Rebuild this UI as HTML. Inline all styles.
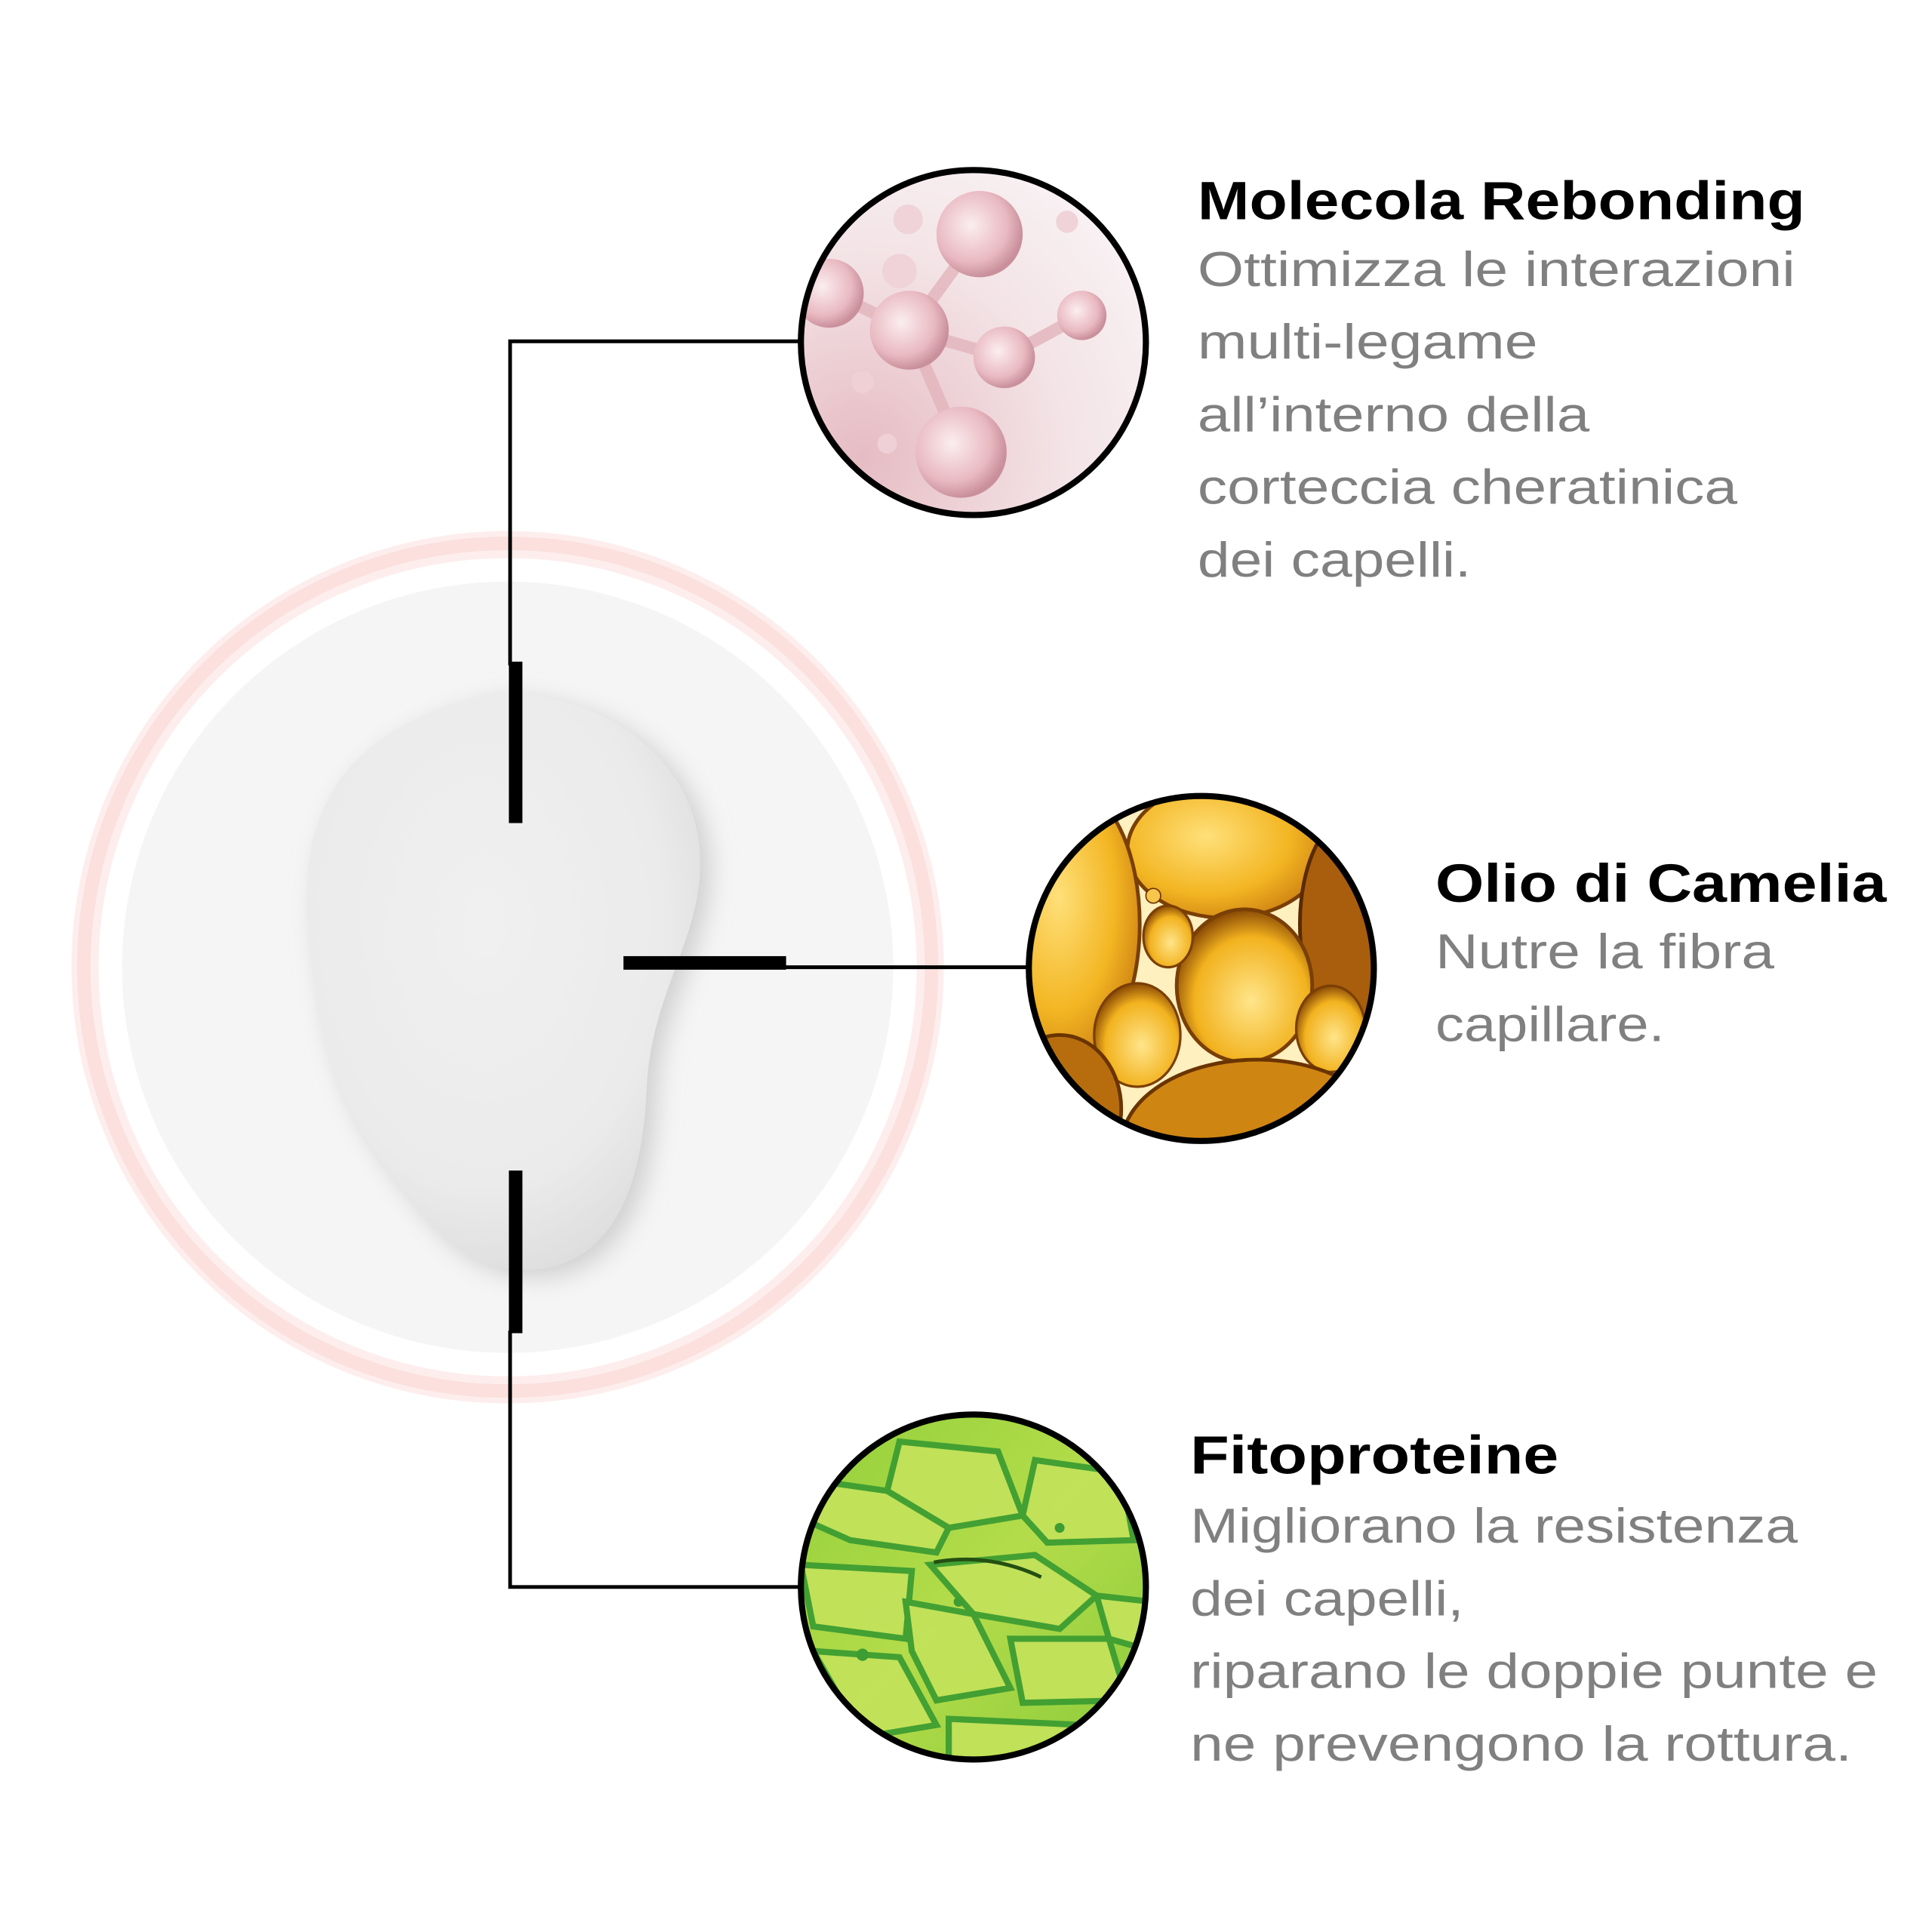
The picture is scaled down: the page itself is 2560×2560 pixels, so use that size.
<!DOCTYPE html>
<html><head><meta charset="utf-8"><style>html,body{margin:0;padding:0;background:#fff}svg{display:block}</style></head>
<body>
<svg width="2560" height="2560" viewBox="0 0 1568 1568" xmlns="http://www.w3.org/2000/svg">
<defs>
<radialGradient id="blob" cx="0.45" cy="0.4" r="0.65">
<stop offset="0" stop-color="#f0f0f0"/><stop offset="0.7" stop-color="#ebebeb"/><stop offset="1" stop-color="#dcdcdc"/>
</radialGradient>
<radialGradient id="pink" cx="0.2" cy="0.8" r="0.9">
<stop offset="0" stop-color="#e6bcc3"/><stop offset="0.6" stop-color="#f3e3e6"/><stop offset="1" stop-color="#f8f1f3"/>
</radialGradient>
<radialGradient id="sph" cx="0.4" cy="0.4" r="0.6">
<stop offset="0" stop-color="#fbeef0"/><stop offset="0.7" stop-color="#e9b9c1"/><stop offset="1" stop-color="#c9909b"/>
</radialGradient>
<radialGradient id="oil" cx="0.4" cy="0.4" r="0.7">
<stop offset="0" stop-color="#ffe07a"/><stop offset="0.6" stop-color="#f3b623"/><stop offset="1" stop-color="#c87a10"/>
</radialGradient>
<radialGradient id="drop" cx="0.55" cy="0.6" r="0.6">
<stop offset="0" stop-color="#ffe58a"/><stop offset="0.7" stop-color="#f2b21e"/><stop offset="1" stop-color="#8a4a05"/>
</radialGradient>
<linearGradient id="green" x1="0" y1="0" x2="1" y2="1">
<stop offset="0" stop-color="#8fcf3a"/><stop offset="0.5" stop-color="#b4dc4a"/><stop offset="1" stop-color="#86c93a"/>
</linearGradient>
<filter id="sh" x="-20%" y="-20%" width="140%" height="140%"><feGaussianBlur stdDeviation="10"/></filter>
<clipPath id="c1"><circle cx="790" cy="278" r="140"/></clipPath>
<clipPath id="c2"><circle cx="975" cy="786" r="140"/></clipPath>
<clipPath id="c3"><circle cx="790" cy="1288" r="140"/></clipPath>
</defs>
<rect width="1568" height="1568" fill="#fff"/>
<circle cx="412" cy="785" r="343" fill="none" stroke="#fdeeed" stroke-width="22"/>
<circle cx="412" cy="785" r="344" fill="none" stroke="#fbe0dd" stroke-width="11"/>
<circle cx="412" cy="785" r="313" fill="#f5f5f5"/>
<path d="M400 562 C470 560 560 600 568 690 C572 760 530 800 525 880 C522 960 500 1020 440 1030 C390 1035 360 1010 330 970 C290 920 265 880 255 800 C240 700 240 600 400 562 Z" fill="#cfcfcf" transform="translate(8,6)" filter="url(#sh)"/>
<path d="M400 562 C470 560 560 600 568 690 C572 760 530 800 525 880 C522 960 500 1020 440 1030 C390 1035 360 1010 330 970 C290 920 265 880 255 800 C240 700 240 600 400 562 Z" fill="url(#blob)"/>
<!-- connectors -->
<polyline points="648,277 414,277 414,540" fill="none" stroke="#000" stroke-width="3"/>
<rect x="413" y="537" width="11" height="131" fill="#000"/>
<polyline points="648,1288 414,1288 414,1080" fill="none" stroke="#000" stroke-width="3"/>
<rect x="413" y="950" width="11" height="132" fill="#000"/>
<rect x="506" y="776" width="132" height="11" fill="#000"/>
<line x1="636" y1="785" x2="835" y2="785" stroke="#000" stroke-width="3"/>
<!-- pink -->
<g clip-path="url(#c1)">
<rect x="640" y="130" width="300" height="300" fill="url(#pink)"/>
<g stroke="#e3b4bc" stroke-width="10" opacity="0.8"><line x1="738" y1="268" x2="795" y2="190"/><line x1="738" y1="268" x2="815" y2="290"/><line x1="815" y1="290" x2="878" y2="256"/><line x1="738" y1="268" x2="780" y2="365"/><line x1="738" y1="268" x2="680" y2="240"/></g>
<circle cx="795" cy="190" r="35" fill="url(#sph)"/>
<circle cx="738" cy="268" r="32" fill="url(#sph)"/>
<circle cx="815" cy="290" r="25" fill="url(#sph)"/>
<circle cx="878" cy="256" r="20" fill="url(#sph)"/>
<circle cx="780" cy="367" r="37" fill="url(#sph)"/>
<circle cx="673" cy="238" r="28" fill="url(#sph)"/>
<circle cx="737" cy="178" r="12" fill="#efd3d8"/><circle cx="730" cy="220" r="14" fill="#efd3d8"/><circle cx="866" cy="180" r="9" fill="#efd3d8"/>
<circle cx="700" cy="310" r="9" fill="#eed0d6"/><circle cx="720" cy="360" r="8" fill="#eed0d6"/>
</g>
<circle cx="790" cy="278" r="140" fill="none" stroke="#000" stroke-width="5"/>
<!-- oil -->
<g clip-path="url(#c2)">
<rect x="830" y="640" width="300" height="300" fill="#fff0c0"/>
<ellipse cx="995" cy="690" rx="80" ry="55" fill="url(#oil)" stroke="#7a3f05" stroke-width="3"/>
<ellipse cx="870" cy="750" rx="55" ry="110" fill="url(#oil)" stroke="#7a3f05" stroke-width="3"/>
<ellipse cx="1100" cy="750" rx="45" ry="90" fill="#a85e0c" stroke="#5a2a00" stroke-width="3"/>
<ellipse cx="1010" cy="800" rx="55" ry="62" fill="url(#drop)" stroke="#7a3f05" stroke-width="3"/>
<ellipse cx="948" cy="760" rx="20" ry="25" fill="url(#drop)" stroke="#7a3f05" stroke-width="2"/>
<ellipse cx="923" cy="840" rx="35" ry="42" fill="url(#drop)" stroke="#7a3f05" stroke-width="2"/>
<ellipse cx="1080" cy="835" rx="28" ry="35" fill="url(#drop)" stroke="#7a3f05" stroke-width="2"/>
<ellipse cx="1020" cy="930" rx="110" ry="70" fill="#cf8512" stroke="#6a3400" stroke-width="3"/>
<ellipse cx="860" cy="900" rx="50" ry="60" fill="#b76d0e" stroke="#6a3400" stroke-width="3"/>
<circle cx="936" cy="727" r="6" fill="#f7c64a" stroke="#6a3400"/>
</g>
<circle cx="975" cy="786" r="140" fill="none" stroke="#000" stroke-width="5"/>
<!-- green -->
<g clip-path="url(#c3)">
<rect x="640" y="1140" width="300" height="300" fill="url(#green)"/>
<g fill="#c2e25a" stroke="#3e9d32" stroke-width="5" opacity="0.95">
<path d="M730 1170 L810 1178 L830 1230 L770 1240 L720 1210 Z"/>
<path d="M830 1230 L840 1185 L910 1195 L920 1250 L850 1252 Z"/>
<path d="M650 1200 L720 1210 L770 1240 L760 1260 L690 1250 L645 1230 Z"/>
<path d="M755 1270 L840 1262 L890 1295 L860 1322 L790 1310 Z"/>
<path d="M650 1270 L740 1275 L735 1330 L660 1320 Z"/>
<path d="M735 1300 L790 1310 L820 1370 L760 1380 L740 1340 Z"/>
<path d="M820 1330 L900 1330 L915 1380 L830 1382 Z"/>
<path d="M890 1295 L935 1300 L935 1340 L900 1330 Z"/>
<path d="M660 1340 L730 1345 L760 1400 L700 1410 Z"/>
<path d="M770 1395 L880 1400 L860 1430 L770 1430 Z"/>
</g>
<path d="M758 1268 C790 1262 820 1268 845 1280" stroke="#244f12" stroke-width="3" fill="none"/>
<circle cx="860" cy="1240" r="4" fill="#3e9d32"/><circle cx="778" cy="1300" r="4" fill="#3e9d32"/><circle cx="700" cy="1343" r="5" fill="#3e9d32"/>
</g>
<circle cx="790" cy="1288" r="140" fill="none" stroke="#000" stroke-width="5"/>
<!-- text -->
<g font-family="'Liberation Sans', sans-serif">
<g font-weight="bold" font-size="44" fill="#000">
<text x="972" y="178" textLength="493" lengthAdjust="spacingAndGlyphs">Molecola Rebonding</text>
<text x="1165" y="732" textLength="366" lengthAdjust="spacingAndGlyphs">Olio di Camelia</text>
<text x="966" y="1196" textLength="299" lengthAdjust="spacingAndGlyphs">Fitoproteine</text>
</g>
<g font-size="40" fill="#808080">
<text x="972" y="232" textLength="485" lengthAdjust="spacingAndGlyphs">Ottimizza le interazioni</text>
<text x="972" y="291" textLength="276" lengthAdjust="spacingAndGlyphs">multi-legame</text>
<text x="972" y="350" textLength="318" lengthAdjust="spacingAndGlyphs">all’interno della</text>
<text x="972" y="409" textLength="438" lengthAdjust="spacingAndGlyphs">corteccia cheratinica</text>
<text x="972" y="468" textLength="222" lengthAdjust="spacingAndGlyphs">dei capelli.</text>
<text x="1165" y="786" textLength="275" lengthAdjust="spacingAndGlyphs">Nutre la fibra</text>
<text x="1165" y="845" textLength="186" lengthAdjust="spacingAndGlyphs">capillare.</text>
<text x="966" y="1252" textLength="493" lengthAdjust="spacingAndGlyphs">Migliorano la resistenza</text>
<text x="966" y="1311" textLength="222" lengthAdjust="spacingAndGlyphs">dei capelli,</text>
<text x="966" y="1370" textLength="558" lengthAdjust="spacingAndGlyphs">riparano le doppie punte e</text>
<text x="966" y="1429" textLength="537" lengthAdjust="spacingAndGlyphs">ne prevengono la rottura.</text>
</g>
</g>
</svg>
</body></html>
